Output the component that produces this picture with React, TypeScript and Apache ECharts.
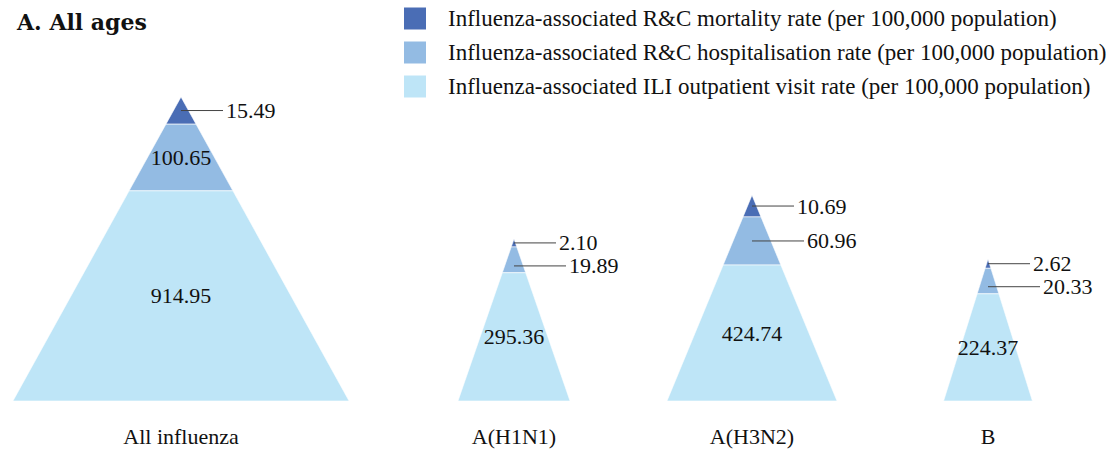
import React, { useEffect, useRef } from "react";
import * as echarts from "echarts";

// ---------- data ----------
const categories = ["All influenza", "A(H1N1)", "A(H3N2)", "B"];
const mortalityRate = [15.49, 2.1, 10.69, 2.62];
const hospitalisationRate = [100.65, 19.89, 60.96, 20.33];
const outpatientRate = [914.95, 295.36, 424.74, 224.37];
const seriesNames = [
  "Influenza-associated R&C mortality rate (per 100,000 population)",
  "Influenza-associated R&C hospitalisation rate (per 100,000 population)",
  "Influenza-associated ILI outpatient visit rate (per 100,000 population)",
];
const titleText = "A. All ages";

// ---------- layout / style ----------
const W_PX = 1116;
const H_PX = 452;
const BASE_GAP = 51; // px below the triangle bases
const SLOT_X = [181, 514, 752, 988]; // centre of each category slot (x-axis units)
const COLORS = ["#4a6db5", "#93bbe3", "#bee5f7"];
const FONT = '"Liberation Serif", "Times New Roman", serif';
const TEXT_COLOR = "#111";

// size scales (value -> axis units)
const HEIGHT_K = 7.48, HEIGHT_P = 0.534;
const WIDTH_K = 0.2613, WIDTH_P = 0.932;
const BOUND_K = 5.07, BOUND_P = 0.614;
const INSIDE_MIN_PX = 60;
const LEADER_LEN = [42, 52, 52];
const MIN_LABEL_SEP = 23;

function geometry(m: number, h: number, o: number) {
  const total = m + h + o;
  const H = HEIGHT_K * Math.pow(total, HEIGHT_P);
  const W = WIDTH_K * Math.pow(total, WIDTH_P);
  const d1 = Math.min(BOUND_K * Math.pow(m, BOUND_P), H);
  const d2 = Math.min(BOUND_K * Math.pow(m + h, BOUND_P), H);
  return { H, W, depths: [0, d1, d2, H] };
}

function makeRenderItem(layer: number) {
  return (params: any, api: any) => {
    const cx = api.value(0);
    const vals = [api.value(1), api.value(2), api.value(3)];
    const g = geometry(vals[0], vals[1], vals[2]);
    const dTop = g.depths[layer];
    const dBot = g.depths[layer + 1];
    const halfAt = (d: number) => (g.W * d) / g.H;
    const pts = [
      [cx - halfAt(dTop), g.H - dTop],
      [cx + halfAt(dTop), g.H - dTop],
      [cx + halfAt(dBot), g.H - dBot],
      [cx - halfAt(dBot), g.H - dBot],
    ].map((p) => api.coord(p));
    const topPx = api.coord([cx, g.H - dTop]);
    const botPx = api.coord([cx, g.H - dBot]);
    let midY = (topPx[1] + botPx[1]) / 2;
    const cxPx = topPx[0];
    const children: any[] = [
      {
        type: "polygon",
        shape: { points: pts },
        style: { fill: COLORS[layer], stroke: "#ffffff", lineWidth: 0.6 },
      },
    ];
    const labelText = vals[layer].toFixed(2);
    if (botPx[1] - topPx[1] >= INSIDE_MIN_PX) {
      children.push({
        type: "text",
        x: cxPx,
        y: midY,
        style: {
          text: labelText,
          fill: TEXT_COLOR,
          fontSize: 22,
          fontFamily: FONT,
          align: "center",
          verticalAlign: "middle",
        },
      });
    } else {
      if (layer > 0) {
        // keep clear of the label of the layer above when that one sits outside too
        const aTop = api.coord([cx, g.H - g.depths[layer - 1]])[1];
        const aBot = topPx[1];
        if (aBot - aTop < INSIDE_MIN_PX) {
          midY = Math.max(midY, (aTop + aBot) / 2 + MIN_LABEL_SEP);
        }
      }
      const L = LEADER_LEN[layer];
      children.push({
        type: "line",
        shape: { x1: cxPx, y1: midY, x2: cxPx + L, y2: midY },
        style: { stroke: "#444", lineWidth: 1 },
      });
      children.push({
        type: "text",
        x: cxPx + L + 3,
        y: midY,
        style: {
          text: labelText,
          fill: TEXT_COLOR,
          fontSize: 22,
          fontFamily: FONT,
          align: "left",
          verticalAlign: "middle",
        },
      });
    }
    if (layer === 2) {
      const basePx = api.coord([cx, 0]);
      children.push({
        type: "text",
        x: basePx[0],
        y: basePx[1] + 35,
        style: {
          text: categories[params.dataIndex],
          fill: TEXT_COLOR,
          fontSize: 22,
          fontFamily: FONT,
          align: "center",
          verticalAlign: "middle",
        },
      });
    }
    return { type: "group", children };
  };
}

export default function App() {
  const ref = useRef<HTMLDivElement>(null);
  useEffect(() => {
    document.body.style.margin = "0";
    if (!ref.current) return;
    const chart = echarts.init(ref.current, undefined, { renderer: "svg" });
    const data = categories.map((c, i) => [
      SLOT_X[i],
      mortalityRate[i],
      hospitalisationRate[i],
      outpatientRate[i],
    ]);
    chart.setOption({
      animation: false,
      backgroundColor: "#ffffff",
      title: {
        text: titleText,
        left: 12,
        top: 6,
        textStyle: {
          fontFamily: '"DejaVu Serif", serif',
          fontWeight: "bold",
          fontSize: 22,
          color: TEXT_COLOR,
        },
      },
      legend: {
        orient: "vertical",
        left: 404,
        top: 7,
        padding: 0,
        itemWidth: 22,
        itemHeight: 22,
        itemGap: 11,
        icon: "rect",
        selectedMode: false,
        data: seriesNames,
        textStyle: {
          fontFamily: FONT,
          fontSize: 23,
          color: TEXT_COLOR,
          padding: [0, 0, 0, 17],
        },
      },
      grid: { left: 0, right: 0, top: 0, bottom: BASE_GAP, containLabel: false },
      xAxis: { type: "value", min: 0, max: W_PX, show: false },
      yAxis: { type: "value", min: 0, max: H_PX - BASE_GAP, show: false },
      series: seriesNames.map((name, layer) => ({
        type: "custom",
        name,
        renderItem: makeRenderItem(layer),
        itemStyle: { color: COLORS[layer] },
        data,
        silent: true,
        clip: false,
      })),
    });
    return () => chart.dispose();
  }, []);
  return <div ref={ref} style={{ width: W_PX, height: H_PX }} />;
}
